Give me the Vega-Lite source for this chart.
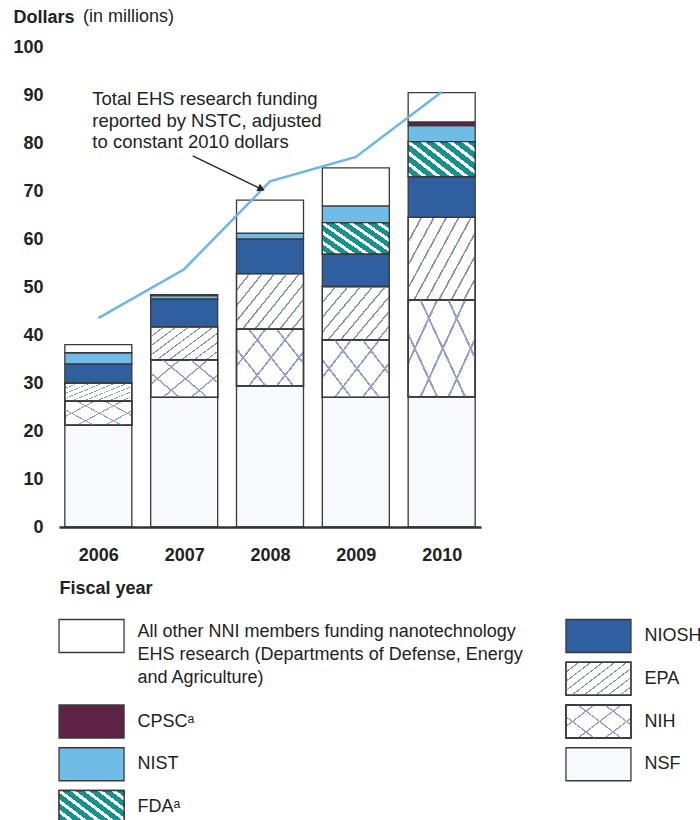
{
  "$schema": "https://vega.github.io/schema/vega-lite/v6.json",
  "padding": {"left": 12, "top": 8, "right": 5, "bottom": 5},
  "background": "white",
  "config": {"view": {"stroke": null}, "font": "Liberation Sans"},
  "spacing": 19,
  "datasets": {
    "funding": [
      {"year": 2006, "agency": "NSF", "value": 21.2},
      {"year": 2006, "agency": "NIH", "value": 5.0},
      {"year": 2006, "agency": "EPA", "value": 3.8},
      {"year": 2006, "agency": "NIOSH", "value": 4.0},
      {"year": 2006, "agency": "NIST", "value": 2.3},
      {"year": 2006, "agency": "Other", "value": 1.7},
      {"year": 2007, "agency": "NSF", "value": 27.0},
      {"year": 2007, "agency": "NIH", "value": 7.8},
      {"year": 2007, "agency": "EPA", "value": 6.9},
      {"year": 2007, "agency": "NIOSH", "value": 5.8},
      {"year": 2007, "agency": "NIST", "value": 0.7},
      {"year": 2007, "agency": "Other", "value": 0.2},
      {"year": 2008, "agency": "NSF", "value": 29.4},
      {"year": 2008, "agency": "NIH", "value": 11.8},
      {"year": 2008, "agency": "EPA", "value": 11.6},
      {"year": 2008, "agency": "NIOSH", "value": 7.2},
      {"year": 2008, "agency": "NIST", "value": 1.2},
      {"year": 2008, "agency": "Other", "value": 6.9},
      {"year": 2009, "agency": "NSF", "value": 27.0},
      {"year": 2009, "agency": "NIH", "value": 12.0},
      {"year": 2009, "agency": "EPA", "value": 11.1},
      {"year": 2009, "agency": "NIOSH", "value": 6.8},
      {"year": 2009, "agency": "FDA", "value": 6.5},
      {"year": 2009, "agency": "NIST", "value": 3.5},
      {"year": 2009, "agency": "Other", "value": 7.9},
      {"year": 2010, "agency": "NSF", "value": 27.1},
      {"year": 2010, "agency": "NIH", "value": 20.2},
      {"year": 2010, "agency": "EPA", "value": 17.2},
      {"year": 2010, "agency": "NIOSH", "value": 8.5},
      {"year": 2010, "agency": "FDA", "value": 7.3},
      {"year": 2010, "agency": "NIST", "value": 3.3},
      {"year": 2010, "agency": "CPSC", "value": 0.8},
      {"year": 2010, "agency": "Other", "value": 6.1}
    ],
    "total": [
      {"year": 2006, "total": 43.5},
      {"year": 2007, "total": 53.7},
      {"year": 2008, "total": 72.0},
      {"year": 2009, "total": 77.1},
      {"year": 2010, "total": 90.6}
    ],
    "callout": [
      {"year": 2006, "value": 91.0, "text": "Total EHS research funding\nreported by NSTC, adjusted\nto constant 2010 dollars"}
    ],
    "arrow": [
      {"xa": 2007.1, "ya": 77.3, "xb": 2007.9, "yb": 70.4}
    ],
    "unit": [
      {"year": 2005.6, "value": 100, "text": "(in millions)"}
    ],
    "legend": [
      {"agency": "Other", "label": "All other NNI members funding nanotechnology\nEHS research (Departments of Defense, Energy\nand Agriculture)", "column": "left", "slot": 0},
      {"agency": "CPSC", "label": "CPSCᵃ", "column": "left", "slot": 2},
      {"agency": "NIST", "label": "NIST", "column": "left", "slot": 3},
      {"agency": "FDA", "label": "FDAᵃ", "column": "left", "slot": 4},
      {"agency": "NIOSH", "label": "NIOSH", "column": "right", "slot": 0},
      {"agency": "EPA", "label": "EPA", "column": "right", "slot": 1},
      {"agency": "NIH", "label": "NIH", "column": "right", "slot": 2},
      {"agency": "NSF", "label": "NSF", "column": "right", "slot": 3}
    ]
  },
  "vconcat": [
    {
      "width": 422,
      "height": 480,
      "layer": [
        {
          "data": {"name": "funding"},
          "transform": [{"stack": "value", "groupby": ["year"], "as": ["v0", "v1"]}],
          "mark": {"type": "bar", "width": 67, "stroke": "#3a3a3a", "strokeWidth": 1.3},
          "encoding": {
            "x": {"field": "year", "type": "quantitative", "scale": {"domain": [2005.6, 2010.4], "nice": false, "zero": false},
              "axis": {"title": "Fiscal year", "titleAnchor": "start", "titleAlign": "left", "titleBaseline": "middle", "titleX": 0, "titleY": 61, "titleFontSize": 18, "titleFontWeight": "bold", "titleColor": "#222", "values": [2006, 2007, 2008, 2009, 2010], "format": "d", "labelFontSize": 18, "labelFontWeight": "bold", "labelColor": "#222", "labelPadding": 19, "labelFlush": false, "ticks": false, "grid": false, "domainColor": "#333", "domainWidth": 2.5, "zindex": 1}},
            "y": {"field": "v0", "type": "quantitative", "scale": {"domain": [0, 100], "nice": false},
              "axis": {"title": "Dollars", "titleAngle": 0, "titleAlign": "left", "titleBaseline": "middle", "titleX": -46, "titleY": -30, "titleFontSize": 18, "titleFontWeight": "bold", "titleColor": "#222", "values": [0, 10, 20, 30, 40, 50, 60, 70, 80, 90, 100], "labelFontSize": 18, "labelFontWeight": "bold", "labelColor": "#222", "labelPadding": 16, "domain": false, "ticks": false, "grid": false}},
            "y2": {"field": "v1"},
            "fill": {"field": "agency", "type": "nominal", "scale": {"domain": ["NSF", "NIH", "EPA", "NIOSH", "FDA", "NIST", "CPSC", "Other"], "range": ["#f8f9fc", "#ffffff", "#ffffff", "#2f5f9f", "#17918c", "#6fbde6", "#5e2245", "#ffffff"]}, "legend": null}
          }
        },
        {
          "data": {"name": "funding"},
          "transform": [{"stack": "value", "groupby": ["year"], "as": ["v0", "v1"]}, {"filter": "datum.agency === 'EPA'"}],
          "mark": {"type": "bar", "width": 67, "stroke": "#3a3a3a", "strokeWidth": 1.3,
            "fill": {"gradient": "linear", "x1": 0, "y1": 0, "x2": 1.154, "y2": 0.769, "stops": [
              {"offset": 0, "color": "#8e94a6"}, {"offset": 0.0167, "color": "#8e94a6"}, {"offset": 0.0167, "color": "rgba(255,255,255,0)"}, {"offset": 0.1111, "color": "rgba(255,255,255,0)"},
              {"offset": 0.1111, "color": "#8e94a6"}, {"offset": 0.1278, "color": "#8e94a6"}, {"offset": 0.1278, "color": "rgba(255,255,255,0)"}, {"offset": 0.2222, "color": "rgba(255,255,255,0)"},
              {"offset": 0.2222, "color": "#8e94a6"}, {"offset": 0.2389, "color": "#8e94a6"}, {"offset": 0.2389, "color": "rgba(255,255,255,0)"}, {"offset": 0.3333, "color": "rgba(255,255,255,0)"},
              {"offset": 0.3333, "color": "#8e94a6"}, {"offset": 0.35, "color": "#8e94a6"}, {"offset": 0.35, "color": "rgba(255,255,255,0)"}, {"offset": 0.4444, "color": "rgba(255,255,255,0)"},
              {"offset": 0.4444, "color": "#8e94a6"}, {"offset": 0.4611, "color": "#8e94a6"}, {"offset": 0.4611, "color": "rgba(255,255,255,0)"}, {"offset": 0.5556, "color": "rgba(255,255,255,0)"},
              {"offset": 0.5556, "color": "#8e94a6"}, {"offset": 0.5723, "color": "#8e94a6"}, {"offset": 0.5723, "color": "rgba(255,255,255,0)"}, {"offset": 0.6667, "color": "rgba(255,255,255,0)"},
              {"offset": 0.6667, "color": "#8e94a6"}, {"offset": 0.6834, "color": "#8e94a6"}, {"offset": 0.6834, "color": "rgba(255,255,255,0)"}, {"offset": 0.7778, "color": "rgba(255,255,255,0)"},
              {"offset": 0.7778, "color": "#8e94a6"}, {"offset": 0.7945, "color": "#8e94a6"}, {"offset": 0.7945, "color": "rgba(255,255,255,0)"}, {"offset": 0.8889, "color": "rgba(255,255,255,0)"},
              {"offset": 0.8889, "color": "#8e94a6"}, {"offset": 0.9056, "color": "#8e94a6"}, {"offset": 0.9056, "color": "rgba(255,255,255,0)"}, {"offset": 1, "color": "rgba(255,255,255,0)"}
            ]}},
          "encoding": {
            "x": {"field": "year", "type": "quantitative", "scale": {"domain": [2005.6, 2010.4], "nice": false, "zero": false}},
            "y": {"field": "v0", "type": "quantitative", "scale": {"domain": [0, 100], "nice": false}},
            "y2": {"field": "v1"}
          }
        },
        {
          "data": {"name": "funding"},
          "transform": [{"stack": "value", "groupby": ["year"], "as": ["v0", "v1"]}, {"filter": "datum.agency === 'NIH'"}],
          "mark": {"type": "bar", "width": 67, "stroke": "#3a3a3a", "strokeWidth": 1.3,
            "fill": {"gradient": "linear", "x1": 0, "y1": 0, "x2": 1.154, "y2": 0.769, "stops": [
              {"offset": 0, "color": "#97a2c8"}, {"offset": 0.02, "color": "#97a2c8"}, {"offset": 0.02, "color": "rgba(255,255,255,0)"}, {"offset": 0.25, "color": "rgba(255,255,255,0)"},
              {"offset": 0.25, "color": "#97a2c8"}, {"offset": 0.27, "color": "#97a2c8"}, {"offset": 0.27, "color": "rgba(255,255,255,0)"}, {"offset": 0.5, "color": "rgba(255,255,255,0)"},
              {"offset": 0.5, "color": "#97a2c8"}, {"offset": 0.52, "color": "#97a2c8"}, {"offset": 0.52, "color": "rgba(255,255,255,0)"}, {"offset": 0.75, "color": "rgba(255,255,255,0)"},
              {"offset": 0.75, "color": "#97a2c8"}, {"offset": 0.77, "color": "#97a2c8"}, {"offset": 0.77, "color": "rgba(255,255,255,0)"}, {"offset": 1, "color": "rgba(255,255,255,0)"}
            ]}},
          "encoding": {
            "x": {"field": "year", "type": "quantitative", "scale": {"domain": [2005.6, 2010.4], "nice": false, "zero": false}},
            "y": {"field": "v0", "type": "quantitative", "scale": {"domain": [0, 100], "nice": false}},
            "y2": {"field": "v1"}
          }
        },
        {
          "data": {"name": "funding"},
          "transform": [{"stack": "value", "groupby": ["year"], "as": ["v0", "v1"]}, {"filter": "datum.agency === 'NIH'"}],
          "mark": {"type": "bar", "width": 67, "stroke": "#3a3a3a", "strokeWidth": 1.3,
            "fill": {"gradient": "linear", "x1": 0, "y1": 1, "x2": 1.154, "y2": 0.231, "stops": [
              {"offset": 0, "color": "#97a2c8"}, {"offset": 0.02, "color": "#97a2c8"}, {"offset": 0.02, "color": "rgba(255,255,255,0)"}, {"offset": 0.25, "color": "rgba(255,255,255,0)"},
              {"offset": 0.25, "color": "#97a2c8"}, {"offset": 0.27, "color": "#97a2c8"}, {"offset": 0.27, "color": "rgba(255,255,255,0)"}, {"offset": 0.5, "color": "rgba(255,255,255,0)"},
              {"offset": 0.5, "color": "#97a2c8"}, {"offset": 0.52, "color": "#97a2c8"}, {"offset": 0.52, "color": "rgba(255,255,255,0)"}, {"offset": 0.75, "color": "rgba(255,255,255,0)"},
              {"offset": 0.75, "color": "#97a2c8"}, {"offset": 0.77, "color": "#97a2c8"}, {"offset": 0.77, "color": "rgba(255,255,255,0)"}, {"offset": 1, "color": "rgba(255,255,255,0)"}
            ]}},
          "encoding": {
            "x": {"field": "year", "type": "quantitative", "scale": {"domain": [2005.6, 2010.4], "nice": false, "zero": false}},
            "y": {"field": "v0", "type": "quantitative", "scale": {"domain": [0, 100], "nice": false}},
            "y2": {"field": "v1"}
          }
        },
        {
          "data": {"name": "funding"},
          "transform": [{"stack": "value", "groupby": ["year"], "as": ["v0", "v1"]}, {"filter": "datum.agency === 'FDA'"}],
          "mark": {"type": "bar", "width": 67, "stroke": "#3a3a3a", "strokeWidth": 1.3,
            "fill": {"gradient": "linear", "x1": 0, "y1": 1, "x2": 1.154, "y2": 0.231, "stops": [
              {"offset": 0, "color": "#ffffff"}, {"offset": 0.0475, "color": "#ffffff"}, {"offset": 0.0475, "color": "rgba(255,255,255,0)"}, {"offset": 0.125, "color": "rgba(255,255,255,0)"},
              {"offset": 0.125, "color": "#ffffff"}, {"offset": 0.1725, "color": "#ffffff"}, {"offset": 0.1725, "color": "rgba(255,255,255,0)"}, {"offset": 0.25, "color": "rgba(255,255,255,0)"},
              {"offset": 0.25, "color": "#ffffff"}, {"offset": 0.2975, "color": "#ffffff"}, {"offset": 0.2975, "color": "rgba(255,255,255,0)"}, {"offset": 0.375, "color": "rgba(255,255,255,0)"},
              {"offset": 0.375, "color": "#ffffff"}, {"offset": 0.4225, "color": "#ffffff"}, {"offset": 0.4225, "color": "rgba(255,255,255,0)"}, {"offset": 0.5, "color": "rgba(255,255,255,0)"},
              {"offset": 0.5, "color": "#ffffff"}, {"offset": 0.5475, "color": "#ffffff"}, {"offset": 0.5475, "color": "rgba(255,255,255,0)"}, {"offset": 0.625, "color": "rgba(255,255,255,0)"},
              {"offset": 0.625, "color": "#ffffff"}, {"offset": 0.6725, "color": "#ffffff"}, {"offset": 0.6725, "color": "rgba(255,255,255,0)"}, {"offset": 0.75, "color": "rgba(255,255,255,0)"},
              {"offset": 0.75, "color": "#ffffff"}, {"offset": 0.7975, "color": "#ffffff"}, {"offset": 0.7975, "color": "rgba(255,255,255,0)"}, {"offset": 0.875, "color": "rgba(255,255,255,0)"},
              {"offset": 0.875, "color": "#ffffff"}, {"offset": 0.9225, "color": "#ffffff"}, {"offset": 0.9225, "color": "rgba(255,255,255,0)"}, {"offset": 1, "color": "rgba(255,255,255,0)"}
            ]}},
          "encoding": {
            "x": {"field": "year", "type": "quantitative", "scale": {"domain": [2005.6, 2010.4], "nice": false, "zero": false}},
            "y": {"field": "v0", "type": "quantitative", "scale": {"domain": [0, 100], "nice": false}},
            "y2": {"field": "v1"}
          }
        },
        {
          "data": {"name": "total"},
          "mark": {"type": "line", "color": "#6cb6e0", "strokeWidth": 2.5},
          "encoding": {
            "x": {"field": "year", "type": "quantitative", "scale": {"domain": [2005.6, 2010.4], "nice": false, "zero": false}},
            "y": {"field": "total", "type": "quantitative", "scale": {"domain": [0, 100], "nice": false}}
          }
        },
        {
          "data": {"name": "callout"},
          "mark": {"type": "text", "align": "left", "baseline": "top", "dx": -6, "fontSize": 18.5, "lineBreak": "\n", "lineHeight": 21.5, "color": "#222"},
          "encoding": {
            "x": {"field": "year", "type": "quantitative", "scale": {"domain": [2005.6, 2010.4], "nice": false, "zero": false}},
            "y": {"field": "value", "type": "quantitative", "scale": {"domain": [0, 100], "nice": false}},
            "text": {"field": "text"}
          }
        },
        {
          "data": {"name": "arrow"},
          "mark": {"type": "rule", "color": "#222", "strokeWidth": 1.3},
          "encoding": {
            "x": {"field": "xa", "type": "quantitative", "scale": {"domain": [2005.6, 2010.4], "nice": false, "zero": false}},
            "y": {"field": "ya", "type": "quantitative", "scale": {"domain": [0, 100], "nice": false}},
            "x2": {"field": "xb"},
            "y2": {"field": "yb"}
          }
        },
        {
          "data": {"name": "arrow"},
          "mark": {"type": "point", "shape": "triangle-right", "angle": 25, "size": 70, "filled": true, "color": "#222", "opacity": 1},
          "encoding": {
            "x": {"field": "xb", "type": "quantitative", "scale": {"domain": [2005.6, 2010.4], "nice": false, "zero": false}},
            "y": {"field": "yb", "type": "quantitative", "scale": {"domain": [0, 100], "nice": false}}
          }
        },
        {
          "data": {"name": "unit"},
          "mark": {"type": "text", "align": "left", "baseline": "middle", "dx": 19, "dy": -30, "fontSize": 18, "color": "#222"},
          "encoding": {
            "x": {"field": "year", "type": "quantitative", "scale": {"domain": [2005.6, 2010.4], "nice": false, "zero": false}},
            "y": {"field": "value", "type": "quantitative", "scale": {"domain": [0, 100], "nice": false}},
            "text": {"field": "text"}
          }
        }
      ]
    },
    {
      "width": 572,
      "height": 171,
      "data": {"name": "legend"},
      "encoding": {
        "x": {"field": "column", "type": "nominal", "scale": {"type": "point", "domain": ["left", "right"], "padding": 0.0642}, "axis": null},
        "y": {"field": "slot", "type": "quantitative", "scale": {"domain": [0, 4], "reverse": true, "nice": false, "zero": false}, "axis": null}
      },
      "layer": [
        {
          "mark": {"type": "point", "shape": "M-1,-0.508H1V0.508H-1Z", "size": 4225, "filled": true, "stroke": "#3a3a3a", "strokeWidth": 1.3, "opacity": 1},
          "encoding": {
            "fill": {"field": "agency", "type": "nominal", "scale": {"domain": ["NSF", "NIH", "EPA", "NIOSH", "FDA", "NIST", "CPSC", "Other"], "range": ["#f8f9fc", "#ffffff", "#ffffff", "#2f5f9f", "#17918c", "#6fbde6", "#5e2245", "#ffffff"]}, "legend": null}
          }
        },
        {
          "transform": [{"filter": "datum.agency === 'EPA'"}],
          "mark": {"type": "point", "shape": "M-1,-0.508H1V0.508H-1Z", "size": 4225, "filled": true, "stroke": "#3a3a3a", "strokeWidth": 1.3, "opacity": 1,
            "fill": {"gradient": "linear", "x1": 0, "y1": 0, "x2": 1.154, "y2": 0.769, "stops": [
              {"offset": 0, "color": "#8e94a6"}, {"offset": 0.0167, "color": "#8e94a6"}, {"offset": 0.0167, "color": "rgba(255,255,255,0)"}, {"offset": 0.1111, "color": "rgba(255,255,255,0)"},
              {"offset": 0.1111, "color": "#8e94a6"}, {"offset": 0.1278, "color": "#8e94a6"}, {"offset": 0.1278, "color": "rgba(255,255,255,0)"}, {"offset": 0.2222, "color": "rgba(255,255,255,0)"},
              {"offset": 0.2222, "color": "#8e94a6"}, {"offset": 0.2389, "color": "#8e94a6"}, {"offset": 0.2389, "color": "rgba(255,255,255,0)"}, {"offset": 0.3333, "color": "rgba(255,255,255,0)"},
              {"offset": 0.3333, "color": "#8e94a6"}, {"offset": 0.35, "color": "#8e94a6"}, {"offset": 0.35, "color": "rgba(255,255,255,0)"}, {"offset": 0.4444, "color": "rgba(255,255,255,0)"},
              {"offset": 0.4444, "color": "#8e94a6"}, {"offset": 0.4611, "color": "#8e94a6"}, {"offset": 0.4611, "color": "rgba(255,255,255,0)"}, {"offset": 0.5556, "color": "rgba(255,255,255,0)"},
              {"offset": 0.5556, "color": "#8e94a6"}, {"offset": 0.5723, "color": "#8e94a6"}, {"offset": 0.5723, "color": "rgba(255,255,255,0)"}, {"offset": 0.6667, "color": "rgba(255,255,255,0)"},
              {"offset": 0.6667, "color": "#8e94a6"}, {"offset": 0.6834, "color": "#8e94a6"}, {"offset": 0.6834, "color": "rgba(255,255,255,0)"}, {"offset": 0.7778, "color": "rgba(255,255,255,0)"},
              {"offset": 0.7778, "color": "#8e94a6"}, {"offset": 0.7945, "color": "#8e94a6"}, {"offset": 0.7945, "color": "rgba(255,255,255,0)"}, {"offset": 0.8889, "color": "rgba(255,255,255,0)"},
              {"offset": 0.8889, "color": "#8e94a6"}, {"offset": 0.9056, "color": "#8e94a6"}, {"offset": 0.9056, "color": "rgba(255,255,255,0)"}, {"offset": 1, "color": "rgba(255,255,255,0)"}
            ]}}
        },
        {
          "transform": [{"filter": "datum.agency === 'NIH'"}],
          "mark": {"type": "point", "shape": "M-1,-0.508H1V0.508H-1Z", "size": 4225, "filled": true, "stroke": "#3a3a3a", "strokeWidth": 1.3, "opacity": 1,
            "fill": {"gradient": "linear", "x1": 0, "y1": 0, "x2": 1.154, "y2": 0.769, "stops": [
              {"offset": 0, "color": "#97a2c8"}, {"offset": 0.02, "color": "#97a2c8"}, {"offset": 0.02, "color": "rgba(255,255,255,0)"}, {"offset": 0.25, "color": "rgba(255,255,255,0)"},
              {"offset": 0.25, "color": "#97a2c8"}, {"offset": 0.27, "color": "#97a2c8"}, {"offset": 0.27, "color": "rgba(255,255,255,0)"}, {"offset": 0.5, "color": "rgba(255,255,255,0)"},
              {"offset": 0.5, "color": "#97a2c8"}, {"offset": 0.52, "color": "#97a2c8"}, {"offset": 0.52, "color": "rgba(255,255,255,0)"}, {"offset": 0.75, "color": "rgba(255,255,255,0)"},
              {"offset": 0.75, "color": "#97a2c8"}, {"offset": 0.77, "color": "#97a2c8"}, {"offset": 0.77, "color": "rgba(255,255,255,0)"}, {"offset": 1, "color": "rgba(255,255,255,0)"}
            ]}}
        },
        {
          "transform": [{"filter": "datum.agency === 'NIH'"}],
          "mark": {"type": "point", "shape": "M-1,-0.508H1V0.508H-1Z", "size": 4225, "filled": true, "stroke": "#3a3a3a", "strokeWidth": 1.3, "opacity": 1,
            "fill": {"gradient": "linear", "x1": 0, "y1": 1, "x2": 1.154, "y2": 0.231, "stops": [
              {"offset": 0, "color": "#97a2c8"}, {"offset": 0.02, "color": "#97a2c8"}, {"offset": 0.02, "color": "rgba(255,255,255,0)"}, {"offset": 0.25, "color": "rgba(255,255,255,0)"},
              {"offset": 0.25, "color": "#97a2c8"}, {"offset": 0.27, "color": "#97a2c8"}, {"offset": 0.27, "color": "rgba(255,255,255,0)"}, {"offset": 0.5, "color": "rgba(255,255,255,0)"},
              {"offset": 0.5, "color": "#97a2c8"}, {"offset": 0.52, "color": "#97a2c8"}, {"offset": 0.52, "color": "rgba(255,255,255,0)"}, {"offset": 0.75, "color": "rgba(255,255,255,0)"},
              {"offset": 0.75, "color": "#97a2c8"}, {"offset": 0.77, "color": "#97a2c8"}, {"offset": 0.77, "color": "rgba(255,255,255,0)"}, {"offset": 1, "color": "rgba(255,255,255,0)"}
            ]}}
        },
        {
          "transform": [{"filter": "datum.agency === 'FDA'"}],
          "mark": {"type": "point", "shape": "M-1,-0.508H1V0.508H-1Z", "size": 4225, "filled": true, "stroke": "#3a3a3a", "strokeWidth": 1.3, "opacity": 1,
            "fill": {"gradient": "linear", "x1": 0, "y1": 1, "x2": 1.154, "y2": 0.231, "stops": [
              {"offset": 0, "color": "#ffffff"}, {"offset": 0.0475, "color": "#ffffff"}, {"offset": 0.0475, "color": "rgba(255,255,255,0)"}, {"offset": 0.125, "color": "rgba(255,255,255,0)"},
              {"offset": 0.125, "color": "#ffffff"}, {"offset": 0.1725, "color": "#ffffff"}, {"offset": 0.1725, "color": "rgba(255,255,255,0)"}, {"offset": 0.25, "color": "rgba(255,255,255,0)"},
              {"offset": 0.25, "color": "#ffffff"}, {"offset": 0.2975, "color": "#ffffff"}, {"offset": 0.2975, "color": "rgba(255,255,255,0)"}, {"offset": 0.375, "color": "rgba(255,255,255,0)"},
              {"offset": 0.375, "color": "#ffffff"}, {"offset": 0.4225, "color": "#ffffff"}, {"offset": 0.4225, "color": "rgba(255,255,255,0)"}, {"offset": 0.5, "color": "rgba(255,255,255,0)"},
              {"offset": 0.5, "color": "#ffffff"}, {"offset": 0.5475, "color": "#ffffff"}, {"offset": 0.5475, "color": "rgba(255,255,255,0)"}, {"offset": 0.625, "color": "rgba(255,255,255,0)"},
              {"offset": 0.625, "color": "#ffffff"}, {"offset": 0.6725, "color": "#ffffff"}, {"offset": 0.6725, "color": "rgba(255,255,255,0)"}, {"offset": 0.75, "color": "rgba(255,255,255,0)"},
              {"offset": 0.75, "color": "#ffffff"}, {"offset": 0.7975, "color": "#ffffff"}, {"offset": 0.7975, "color": "rgba(255,255,255,0)"}, {"offset": 0.875, "color": "rgba(255,255,255,0)"},
              {"offset": 0.875, "color": "#ffffff"}, {"offset": 0.9225, "color": "#ffffff"}, {"offset": 0.9225, "color": "rgba(255,255,255,0)"}, {"offset": 1, "color": "rgba(255,255,255,0)"}
            ]}}
        },
        {
          "transform": [{"filter": "datum.agency !== 'Other'"}],
          "mark": {"type": "text", "align": "left", "baseline": "middle", "dx": 46, "fontSize": 18, "color": "#222"},
          "encoding": {"text": {"field": "label"}}
        },
        {
          "transform": [{"filter": "datum.agency === 'Other'"}],
          "mark": {"type": "text", "align": "left", "baseline": "top", "dx": 46, "dy": -13, "fontSize": 18, "lineBreak": "\n", "lineHeight": 23, "color": "#222"},
          "encoding": {"text": {"field": "label"}}
        }
      ]
    }
  ]
}
